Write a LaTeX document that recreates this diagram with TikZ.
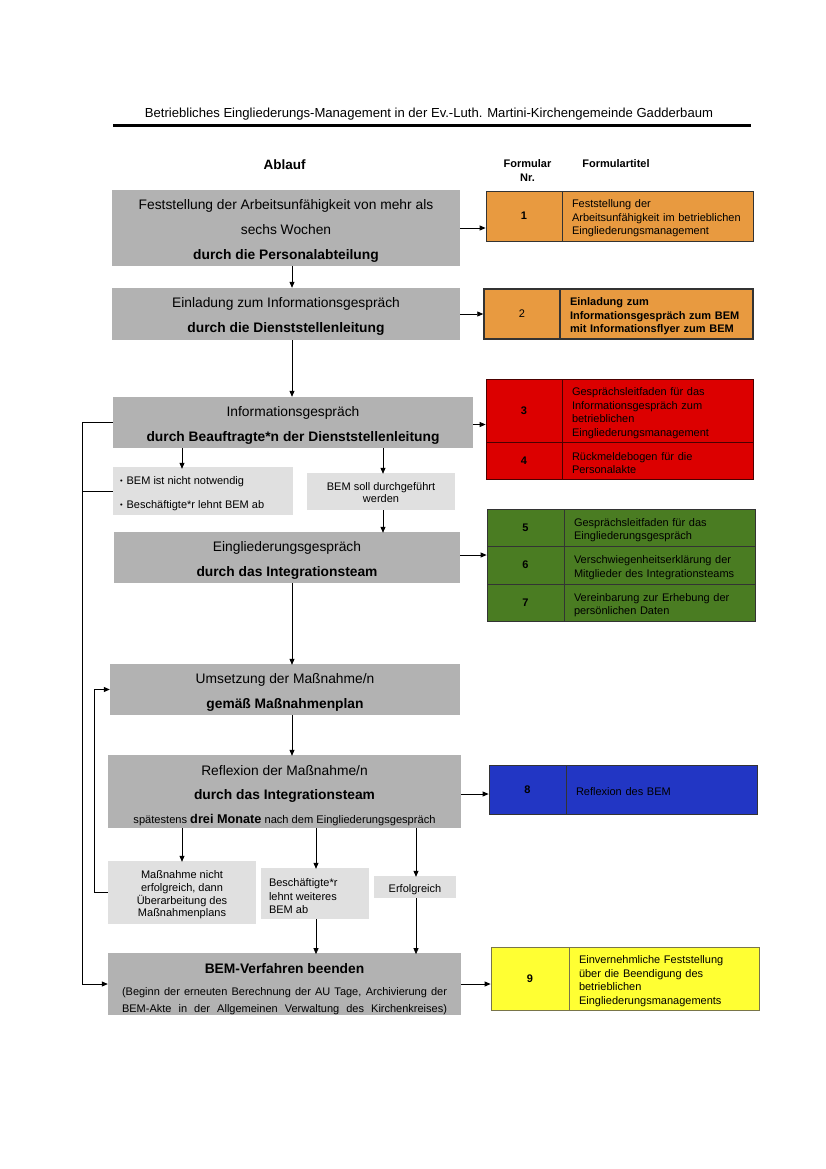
\documentclass[tikz,border=0pt]{standalone}
\usepackage{fontspec}
\setmainfont{Liberation Sans}
\usetikzlibrary{arrows.meta}
\definecolor{mgray}{HTML}{B2B2B2}
\definecolor{lgray}{HTML}{E0E0E0}
\definecolor{forange}{HTML}{E89A40}
\definecolor{fred}{HTML}{DC0000}
\definecolor{fgreen}{HTML}{4A7C22}
\definecolor{fblue}{HTML}{2236C4}
\definecolor{fyellow}{HTML}{FFFF33}
\newcommand{\tst}[1]{\rule{0pt}{#1}}
\newcommand{\bul}{{\fontsize{7.5}{7.5}\selectfont\raisebox{1pt}{•}}\hspace{4pt}}
\tikzset{
  mainbox/.style={fill=mgray, draw=none, inner sep=0pt, align=center,
    font=\fontsize{13.8}{25}\selectfont},
  lightbox/.style={fill=lgray, draw=none, inner sep=0pt,
    font=\fontsize{11}{13}\selectfont},
  arr/.style={-{Triangle[length=6pt,width=5pt]}, line width=0.8pt},
  conn/.style={line width=0.8pt},
  numcell/.style={draw=black!80, line width=0.8pt, inner sep=0pt,
    font=\bfseries\fontsize{11}{13}\selectfont},
  txtcell/.style={draw=black!80, line width=0.8pt, inner xsep=10pt, inner ysep=0pt,
    align=left, font=\fontsize{11}{13.5}\selectfont},
}
\begin{document}
\begin{tikzpicture}[x=1pt,y=-1pt]
\useasboundingbox (0,0) rectangle (826,1169);
\fill[white] (0,0) rectangle (826,1169);

% header
\node[font=\fontsize{13.1}{15}\selectfont] (title) at (429,114)
  {Betriebliches Eingliederungs-Management in der Ev.-Luth. Martini-Kirchengemeinde Gadderbaum};
\draw[line width=3pt] (113,125.5) -- (751,125.5);
\node[font=\bfseries\fontsize{13.5}{15}\selectfont] (ablauf) at (284.5,165) {Ablauf};
\node[font=\bfseries\fontsize{11}{14}\selectfont, align=center] (fnr) at (527.5,171) {Formular\\Nr.};
\node[font=\bfseries\fontsize{11}{14}\selectfont] (ftit) at (616,164) {Formulartitel};

% left column
\node[mainbox, minimum width=348pt, minimum height=76pt] (b1) at (286,228)
  {\tst{16pt}Feststellung der Arbeitsunfähigkeit von mehr als\\sechs Wochen\\\textbf{durch die Personalabteilung}};
\node[mainbox, minimum width=348pt, minimum height=52pt] (b2) at (286,314)
  {\tst{14pt}Einladung zum Informationsgespräch\\\textbf{durch die Dienststellenleitung}};
\node[mainbox, minimum width=360pt, minimum height=51pt] (b3) at (293,422.5)
  {\tst{16pt}Informationsgespräch\\\textbf{durch Beauftragte*n der Dienststellenleitung}};
\node[lightbox, minimum width=180pt, minimum height=48pt, align=left,
  font=\fontsize{11}{24}\selectfont] (l1) at (203,491)
  {\parbox{166pt}{\tst{14pt}\bul BEM ist nicht notwendig\\
   \bul Beschäftigte*r lehnt BEM ab}};
\node[lightbox, minimum width=148pt, minimum height=37pt, align=center,
  font=\fontsize{11}{12.5}\selectfont] (l2) at (381,491.5)
  {\tst{10pt}BEM soll durchgeführt\\werden};
\node[mainbox, minimum width=346pt, minimum height=51pt] (b4) at (287,557.5)
  {\tst{16pt}Eingliederungsgespräch\\\textbf{durch das Integrationsteam}};
\node[mainbox, minimum width=350pt, minimum height=51pt] (b5) at (285,689.5)
  {\tst{16pt}Umsetzung der Maßnahme/n\\\textbf{gemäß Maßnahmenplan}};
\node[mainbox, minimum width=353pt, minimum height=73pt, font=\fontsize{13.8}{24}\selectfont] (b6) at (284.5,791.5)
  {\tst{18pt}Reflexion der Maßnahme/n\\\textbf{durch das Integrationsteam}\\
   {\fontsize{11.1}{12}\selectfont spätestens \textbf{\fontsize{12.7}{12}\selectfont drei Monate} nach dem Eingliederungsgespräch}};
\node[lightbox, minimum width=148pt, minimum height=63pt, align=center,
  font=\fontsize{11}{12.7}\selectfont] (l3) at (182,892.5)
  {\tst{13pt}Maßnahme nicht\\erfolgreich, dann\\Überarbeitung des\\Maßnahmenplans};
\node[lightbox, minimum width=108pt, minimum height=51pt, align=left,
  font=\fontsize{11}{13.5}\selectfont] (l4) at (315,893.5)
  {\parbox{92pt}{\tst{14pt}Beschäftigte*r\\lehnt weiteres\\BEM ab}};
\node[lightbox, minimum width=82pt, minimum height=22pt, align=center] (l5) at (415,887)
  {\tst{14pt}Erfolgreich};
\node[mainbox, minimum width=353pt, minimum height=60pt, font=\fontsize{11}{17}\selectfont] (b7) at (284.5,984)
  {\textbf{\fontsize{13.8}{15}\selectfont\tst{20pt}BEM-Verfahren beenden}\\[5pt]
   \makebox[325pt][s]{(Beginn der erneuten Berechnung der AU Tage, Archivierung der}\\
   \makebox[325pt][s]{BEM-Akte in der Allgemeinen Verwaltung des Kirchenkreises)}};

% form boxes
\node[numcell, fill=forange, minimum width=76pt, minimum height=50pt] (n1) at (524,216) {1};
\node[txtcell, fill=forange, text width=171pt, minimum height=50pt] (t1) at (657.5,216)
  {\tst{13pt}Feststellung der\\Arbeitsunfähigkeit im betrieblichen\\Eingliederungsmanagement};
\node[numcell, fill=forange, line width=1.5pt, font=\fontsize{11}{13}\selectfont, minimum width=76pt, minimum height=50pt] (n2) at (522,314) {2};
\node[txtcell, fill=forange, line width=1.5pt, text width=173pt, minimum height=50pt, font=\bfseries\fontsize{11}{13.5}\selectfont] (t2) at (656.5,314)
  {\tst{13pt}Einladung zum\\Informationsgespräch zum BEM\\mit Informationsflyer zum BEM};
\node[numcell, fill=fred, draw=black!70!red, minimum width=76pt, minimum height=63pt] (n3) at (524,410.5) {3};
\node[txtcell, fill=fred, draw=black!70!red, text width=171pt, minimum height=63pt] (t3) at (657.5,410.5)
  {\tst{13pt}Gesprächsleitfaden für das\\Informationsgespräch zum\\betrieblichen\\Eingliederungsmanagement};
\node[numcell, fill=fred, draw=black!70!red, minimum width=76pt, minimum height=37pt] (n4) at (524,460.5) {4};
\node[txtcell, fill=fred, draw=black!70!red, text width=171pt, minimum height=37pt] (t4) at (657.5,460.5)
  {\tst{13pt}Rückmeldebogen für die\\Personalakte};
\node[numcell, fill=fgreen, minimum width=77pt, minimum height=37pt] (n5) at (525.5,527.5) {5};
\node[txtcell, fill=fgreen, text width=171pt, minimum height=37pt] (t5) at (659.5,527.5)
  {\tst{13pt}Gesprächsleitfaden für das\\Eingliederungsgespräch};
\node[numcell, fill=fgreen, minimum width=77pt, minimum height=38pt] (n6) at (525.5,565) {6};
\node[txtcell, fill=fgreen, text width=171pt, minimum height=38pt] (t6) at (659.5,565)
  {\tst{13pt}Verschwiegenheitserklärung der\\Mitglieder des Integrationsteams};
\node[numcell, fill=fgreen, minimum width=77pt, minimum height=37pt] (n7) at (525.5,602.5) {7};
\node[txtcell, fill=fgreen, text width=171pt, minimum height=37pt] (t7) at (659.5,602.5)
  {\tst{13pt}Vereinbarung zur Erhebung der\\persönlichen Daten};
\node[numcell, fill=fblue, minimum width=77pt, minimum height=49pt] (n8) at (527.5,789.5) {8};
\node[txtcell, fill=fblue, text width=171pt, minimum height=49pt] (t8) at (661.5,789.5)
  {\tst{13pt}Reflexion des BEM};
\node[numcell, fill=fyellow, draw=black!60!yellow, minimum width=78pt, minimum height=63pt] (n9) at (530,978.5) {9};
\node[txtcell, fill=fyellow, draw=black!60!yellow, text width=170pt, minimum height=63pt] (t9) at (664,978.5)
  {\tst{13pt}Einvernehmliche Feststellung\\über die Beendigung des\\betrieblichen\\Eingliederungsmanagements};

% vertical arrows
\draw[arr] ([xshift=6pt]b1.south) -- ([xshift=6pt]b2.north);
\draw[arr] ([xshift=6pt]b2.south) -- ([xshift=-1pt]b3.north);
\draw[arr] ([xshift=-111pt]b3.south) -- ([xshift=-21pt,yshift=-2pt]l1.north);
\draw[arr] ([xshift=90pt]b3.south) -- ([xshift=2pt,yshift=-1pt]l2.north);
\draw[arr] ([xshift=2pt]l2.south) -- ([xshift=96pt,yshift=-1pt]b4.north);
\draw[arr] ([xshift=5pt]b4.south) -- ([xshift=7pt,yshift=-1pt]b5.north);
\draw[arr] ([xshift=7pt]b5.south) -- ([xshift=7.5pt,yshift=-1pt]b6.north);
\draw[arr] ([xshift=-102.5pt]b6.south) -- ([yshift=-1pt]l3.north);
\draw[arr] ([xshift=31.5pt]b6.south) -- ([xshift=1pt,yshift=-1pt]l4.north);
\draw[arr] ([xshift=131.5pt]b6.south) -- ([xshift=1pt,yshift=-1pt]l5.north);
\draw[arr] ([xshift=1pt]l4.south) -- ([xshift=31.5pt,yshift=-1pt]b7.north);
\draw[arr] ([xshift=1pt]l5.south) -- ([xshift=131.5pt,yshift=-1pt]b7.north);

% horizontal arrows to forms
\draw[arr] (b1.east) -- (b1.east -| n1.west);
\draw[arr] (b2.east) -- (b2.east -| n2.west);
\draw[arr] ([yshift=-2pt]b3.east) -- ([yshift=-2pt]b3.east -| n3.west);
\draw[arr] ([yshift=2.5pt]b4.east) -- ([yshift=2.5pt]b4.east -| n6.west);
\draw[arr] ([yshift=-2.5pt]b6.east) -- ([yshift=-2.5pt]b6.east -| n8.west);
\draw[arr] (b7.east) -- (b7.east -| n9.west);

% left feedback lines
\coordinate (lx) at (82,700);
\coordinate (lx2) at (94,800);
\draw[arr] (b3.west) -- (b3.west -| lx) -- (b7.west -| lx) -- (b7.west);
\draw[conn] (l1.west) -- (l1.west -| lx);
\draw[arr] (l3.west) -- (l3.west -| lx2) -- (b5.west -| lx2) -- (b5.west);
\end{tikzpicture}
\end{document}
